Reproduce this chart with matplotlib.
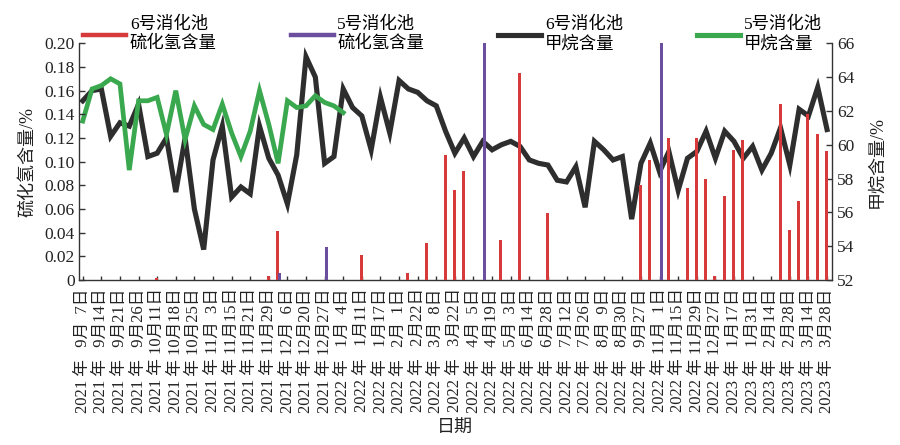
import numpy as np
import matplotlib
matplotlib.use("Agg")
import matplotlib.pyplot as plt
from matplotlib.lines import Line2D

plt.rcParams['font.family'] = ['Liberation Serif', 'Noto Sans CJK SC', 'DejaVu Sans']
plt.rcParams['axes.unicode_minus'] = False

# ---------------- data ----------------
tick_dates = ["2021-09-07", "2021-09-14", "2021-09-21", "2021-09-26", "2021-10-11",
              "2021-10-18", "2021-10-25", "2021-11-03", "2021-11-15", "2021-11-21",
              "2021-11-29", "2021-12-06", "2021-12-20", "2021-12-27", "2022-01-04",
              "2022-01-11", "2022-01-17", "2022-02-01", "2022-02-22", "2022-03-08",
              "2022-03-22", "2022-04-05", "2022-04-19", "2022-05-03", "2022-06-14",
              "2022-06-28", "2022-07-12", "2022-07-26", "2022-08-09", "2022-08-30",
              "2022-09-27", "2022-11-01", "2022-11-15", "2022-11-29", "2022-12-27",
              "2023-01-17", "2023-01-31", "2023-02-14", "2023-02-28", "2023-03-14",
              "2023-03-28"]

# 6号消化池 甲烷含量 (%), one sample per half tick interval
ch4_pool6 = [62.6, 63.2, 63.3, 60.5, 61.3, 61.1, 62.4, 59.3, 59.5, 60.4,
             57.2, 60.4, 56.2, 53.8, 59.1, 61.1, 56.9, 57.5, 57.1, 61.1,
             59.2, 58.2, 56.5, 59.4, 65.2, 64.0, 58.9, 59.3, 63.3, 62.2,
             61.7, 59.7, 62.8, 60.7, 63.8, 63.3, 63.1, 62.6, 62.3, 60.8,
             59.5, 60.4, 59.3, 60.2, 59.7, 60.0, 60.2, 59.9, 59.1, 58.9,
             58.8, 57.9, 57.8, 58.7, 56.3, 60.2, 59.7, 59.1, 59.3, 55.6,
             58.9, 60.1, 58.4, 59.6, 57.3, 59.2, 59.6, 60.8, 59.2, 60.8,
             60.2, 59.2, 59.9, 58.5, 59.5, 61.0, 58.8, 62.1, 61.7, 63.4,
             60.9]

# 5号消化池 甲烷含量 (%)
ch4_pool5 = [61.4, 63.3, 63.5, 63.9, 63.6, 58.5, 62.6, 62.6, 62.8, 60.6,
             63.2, 60.3, 62.3, 61.2, 60.9, 62.4, 60.7, 59.3, 60.8, 63.2,
             61.2, 58.9, 62.6, 62.2, 62.3, 62.9, 62.5, 62.3, 61.9]

# 6号消化池 硫化氢含量 (%): sample index -> value
h2s_pool6_idx = [8, 20, 21, 30, 35, 37, 39, 40, 41, 45, 47, 50, 60, 61, 63,
                 65, 66, 67, 68, 69, 70, 71, 75, 76, 77, 78, 79, 80]
h2s_pool6_val = [0.0015, 0.003, 0.041, 0.021, 0.006, 0.031, 0.106, 0.076, 0.092,
                 0.034, 0.175, 0.057, 0.080, 0.101, 0.120, 0.078, 0.120, 0.085,
                 0.003, 0.071, 0.110, 0.118, 0.149, 0.042, 0.067, 0.140, 0.123,
                 0.109]

# 5号消化池 硫化氢含量 (%)
h2s_pool5_idx = [21, 26, 43, 62]
h2s_pool5_val = [0.0056, 0.028, 0.200, 0.200]

left_ticks = [0, 0.02, 0.04, 0.06, 0.08, 0.10, 0.12, 0.14, 0.16, 0.18, 0.20]
left_ticklabels = ["0", "0.02", "0.04", "0.06", "0.08", "0.10", "0.12", "0.14",
                   "0.16", "0.18", "0.20"]
right_ticks = [52, 54, 56, 58, 60, 62, 64, 66]

# ---------------- colours ----------------
c_red = "#d63a3a"
c_purple = "#6b4f9e"
c_black = "#2e2e2e"
c_green = "#3aa84e"


def fmt_date(s):
    y, m, d = s.split("-")
    m, d = int(m), int(d)
    ms = ("  " if m < 10 else "") + str(m)
    ds = ("  " if d < 10 else "") + str(d)
    return f"{y} 年 {ms}月{ds}日"


fig = plt.figure(figsize=(9, 4.45), dpi=100)
ax = fig.add_axes([0.0878, 0.3708, 0.8363, 0.5319])
ax2 = ax.twinx()

x6 = np.arange(len(ch4_pool6))
x5 = np.arange(len(ch4_pool5))

ax2.plot(x6, ch4_pool6, color=c_black, lw=3.7, solid_joinstyle='miter', zorder=2)
ax2.plot(x5, ch4_pool5, color=c_green, lw=3.4, solid_joinstyle='miter', zorder=3)

ax.bar(np.array(h2s_pool6_idx) - 0.05, h2s_pool6_val, width=0.32, color=c_red,
       linewidth=0, zorder=3)
ax.bar(np.array(h2s_pool5_idx) + 0.2, h2s_pool5_val, width=0.32, color=c_purple,
       linewidth=0, zorder=3)

ax.set_zorder(ax2.get_zorder() + 1)
ax.patch.set_visible(False)

ax.set_xlim(-0.4, 80.5)
ax.set_ylim(0, 0.2)
ax2.set_ylim(52, 66)

ax.set_xticks(np.arange(0, 81, 2))
ax.set_xticklabels([fmt_date(s) for s in tick_dates], rotation=90, fontsize=12)
ax.set_yticks(left_ticks)
ax.set_yticklabels(left_ticklabels, fontsize=12.5)
ax2.set_yticks(right_ticks)
ax2.set_yticklabels([str(t) for t in right_ticks], fontsize=12.5)

for a in (ax, ax2):
    a.spines['top'].set_visible(False)
    for s in a.spines.values():
        s.set_color("#333333")
        s.set_linewidth(1.0)
ax.spines['right'].set_visible(False)
ax2.spines['left'].set_visible(False)
ax2.spines['bottom'].set_visible(False)

ax.tick_params(axis='x', direction='in', length=3, width=1, pad=6, colors="#333333",
               labelcolor="#222222")
ax.tick_params(axis='y', direction='in', length=4, width=1, pad=3, colors="#333333",
               labelcolor="#222222")
ax2.tick_params(axis='y', direction='in', length=4, width=1, pad=4, colors="#333333",
                labelcolor="#222222")

ax.set_ylabel("硫化氢含量/%", fontsize=13, labelpad=6, color="#222222")
ax2.set_ylabel("甲烷含量/%", fontsize=13, labelpad=10, rotation=90, color="#222222")
ax.set_xlabel("日期", fontsize=13, labelpad=5, color="#222222")

handles = [Line2D([], [], color=c_red, lw=3.2),
           Line2D([], [], color=c_purple, lw=3.2),
           Line2D([], [], color=c_black, lw=3.7),
           Line2D([], [], color=c_green, lw=3.7)]
labels = ["6号消化池\n硫化氢含量", "5号消化池\n硫化氢含量",
          "6号消化池\n甲烷含量", "5号消化池\n甲烷含量"]
fig.legend(handles, labels, loc='upper left', bbox_to_anchor=(83 / 900, 1 - 17 / 445),
           ncol=4, frameon=False, handlelength=2.5, handletextpad=0.2,
           columnspacing=4.25, borderpad=0, borderaxespad=0, labelspacing=0,
           prop={'family': ['Liberation Serif', 'Noto Sans CJK SC'], 'size': 12.5})

fig.savefig("out.png", dpi=100)
